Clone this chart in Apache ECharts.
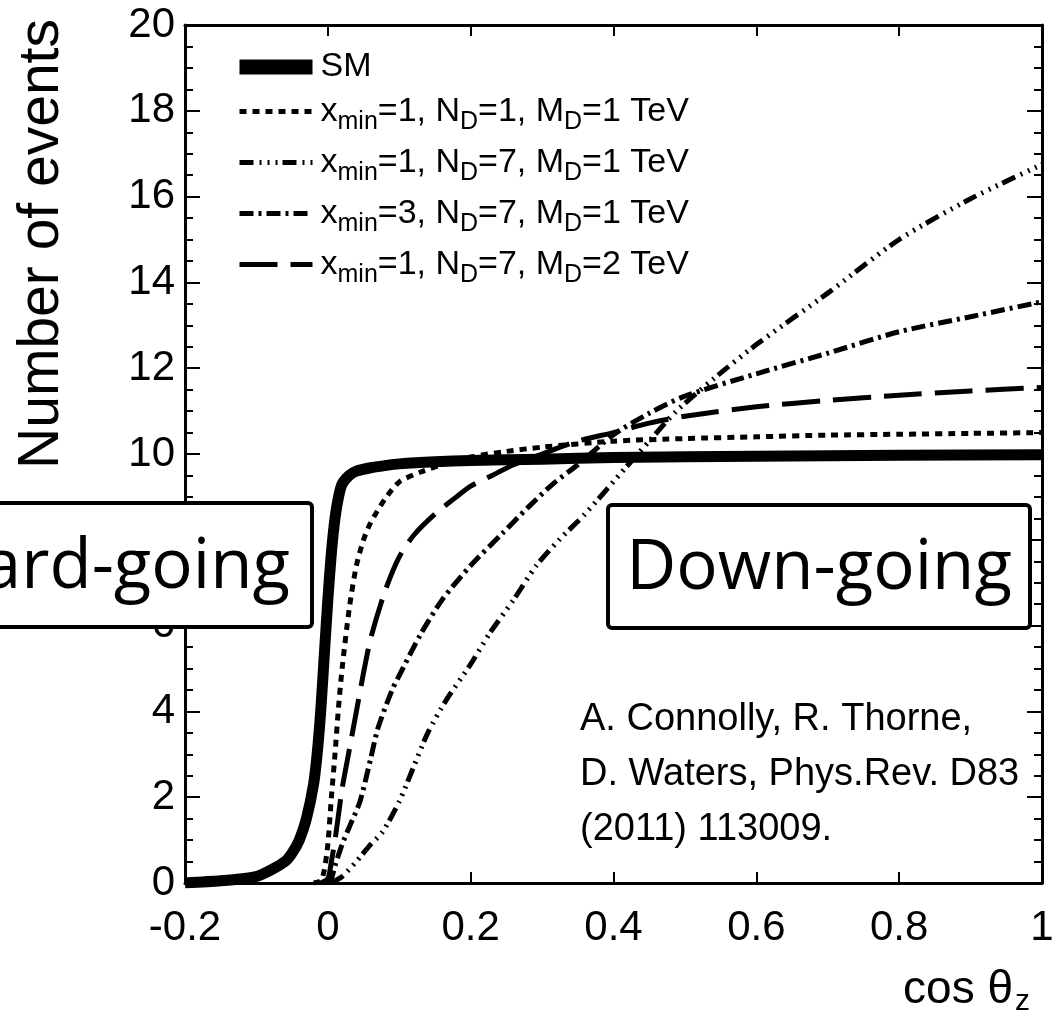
<!DOCTYPE html>
<html>
<head>
<meta charset="utf-8">
<script src="https://cdn.jsdelivr.net/npm/echarts@6/dist/echarts.min.js"></script>
<style>
html,body{margin:0;padding:0;background:#fff;}
#c{width:1059px;height:1029px;}
</style>
</head>
<body>
<div id="c"></div>
<script>
// ---- data ----
const xTicks = [-0.2, 0, 0.2, 0.4, 0.6, 0.8, 1];
const yTicks = [0, 2, 4, 6, 8, 10, 12, 14, 16, 18, 20];

const seriesNames = [
  'SM',
  'x_min=1, N_D=1, M_D=1 TeV',
  'x_min=1, N_D=7, M_D=1 TeV',
  'x_min=3, N_D=7, M_D=1 TeV',
  'x_min=1, N_D=7, M_D=2 TeV'
];

const smX = [-0.2,-0.15,-0.12,-0.1,-0.08,-0.06,-0.05,-0.04,-0.03,-0.02,-0.015,-0.01,-0.005,0,0.005,0.01,0.015,0.02,0.03,0.04,0.06,0.08,0.1,0.15,0.2,0.3,0.4,0.6,0.8,1.0];
const smY = [0.0,0.05,0.1,0.15,0.3,0.5,0.7,1.0,1.5,2.3,3.0,4.0,5.3,6.6,7.7,8.5,9.0,9.3,9.5,9.6,9.68,9.73,9.77,9.82,9.85,9.88,9.92,9.95,9.97,9.98];

const nd1X = [-0.02,-0.01,-0.005,0,0.005,0.01,0.015,0.02,0.03,0.04,0.05,0.06,0.08,0.1,0.13,0.16,0.2,0.25,0.3,0.4,0.5,0.6,0.7,0.8,0.9,1.0];
const nd1Y = [0,0.05,0.3,0.9,2.0,3.0,4.1,5.0,6.4,7.4,8.0,8.4,8.95,9.35,9.58,9.75,9.93,10.06,10.16,10.3,10.36,10.4,10.44,10.46,10.48,10.5];

const nd7m1X = [0.005,0.01,0.02,0.04,0.06,0.077,0.1,0.12,0.14,0.166,0.2,0.227,0.26,0.292,0.324,0.36,0.418,0.45,0.488,0.54,0.6,0.7,0.8,0.9,1.0];
const nd7m1Y = [0,0.05,0.15,0.5,0.9,1.2,1.9,2.7,3.5,4.27,5.1,5.83,6.6,7.4,8.0,8.6,9.7,10.3,11.0,11.75,12.55,13.75,15.0,15.95,16.75];

const xm3X = [0,0.005,0.01,0.02,0.03,0.045,0.06,0.07,0.09,0.105,0.13,0.16,0.2,0.245,0.28,0.315,0.35,0.4,0.45,0.5,0.6,0.7,0.8,0.9,1.0];
const xm3Y = [0,0.1,0.4,0.9,1.3,1.9,2.9,3.6,4.5,5.0,5.8,6.6,7.4,8.16,8.75,9.3,9.75,10.45,10.95,11.35,11.87,12.35,12.85,13.2,13.55];

const md2X = [-0.01,0,0.005,0.01,0.015,0.02,0.03,0.04,0.05,0.06,0.08,0.1,0.12,0.15,0.18,0.2,0.23,0.26,0.3,0.35,0.4,0.45,0.5,0.6,0.7,0.8,0.9,1.0];
const md2Y = [0,0.1,0.5,1.0,1.6,2.2,3.1,4.0,4.9,5.7,6.8,7.6,8.1,8.6,9.0,9.25,9.5,9.75,10.0,10.3,10.5,10.72,10.88,11.1,11.25,11.37,11.47,11.55];

const citation = ['A. Connolly, R. Thorne,', 'D. Waters, Phys.Rev. D83', '(2011) 113009.'];

// ---- build ----
function pairs(xs, ys){ return xs.map((x,i)=>[x, ys[i]]); }
function richName(n){
  if (n === 'SM') return '{g| }{t|SM}';
  const m = n.match(/x_min=(\d), N_D=(\d), M_D=(\d) TeV/);
  return '{g| }{t|x}{s|min}{t|=' + m[1] + ', N}{s|D}{t|=' + m[2] + ', M}{s|D}{t|=' + m[3] + ' TeV}';
}

const FONT = '"Liberation Sans", Arial, Helvetica, sans-serif';
const lineSeries = [
  {name: seriesNames[0], data: pairs(smX, smY), width: 11, type: 'solid'},
  {name: seriesNames[1], data: pairs(nd1X, nd1Y), width: 5, type: [7, 6]},
  {name: seriesNames[2], data: pairs(nd7m1X, nd7m1Y), width: 5, type: [14, 6, 2, 6, 2, 6, 2, 5]},
  {name: seriesNames[3], data: pairs(xm3X, xm3Y), width: 5, type: [14, 5, 3, 5]},
  {name: seriesNames[4], data: pairs(md2X, md2Y), width: 5, type: [38, 13]}
];

const chart = echarts.init(document.getElementById('c'), null, {renderer: 'canvas'});

const axisCommonY = {
  type: 'value', min: yTicks[0], max: yTicks[yTicks.length-1], interval: yTicks[1]-yTicks[0],
  splitLine: {show: false},
  axisLine: {show: true, onZero: false, lineStyle: {color: '#000', width: 3}},
  axisTick: {show: true, inside: true, length: 15, lineStyle: {color: '#000', width: 2}},
  minorTick: {show: true, splitNumber: 4, length: 8, lineStyle: {color: '#000', width: 2}},
  minorSplitLine: {show: false}
};
const axisCommonX = {
  type: 'value', min: xTicks[0], max: xTicks[xTicks.length-1], interval: 0.2,
  splitLine: {show: false},
  axisLine: {show: true, onZero: false, lineStyle: {color: '#000', width: 3}},
  axisTick: {show: true, inside: true, length: 11, lineStyle: {color: '#000', width: 2}}
};

const option = {
  backgroundColor: '#fff',
  animation: false,
  grid: {left: 185, right: 17, top: 25, bottom: 146, containLabel: false},
  xAxis: [
    Object.assign({}, axisCommonX, {
      position: 'bottom',
      axisLabel: {show: true, fontSize: 42, color: '#000', fontFamily: FONT, margin: 24,
        formatter: v => { const i = xTicks.findIndex(t => Math.abs(t - v) < 1e-9); return i >= 0 ? String(xTicks[i]) : ''; }}
    }),
    Object.assign({}, axisCommonX, {position: 'top', axisLabel: {show: false}})
  ],
  yAxis: [
    Object.assign({}, axisCommonY, {
      position: 'left',
      axisLabel: {show: true, fontSize: 42, color: '#000', fontFamily: FONT, margin: 10,
        formatter: v => { const i = yTicks.findIndex(t => Math.abs(t - v) < 1e-9); return i >= 0 ? String(yTicks[i]) : ''; }}
    }),
    Object.assign({}, axisCommonY, {position: 'right', axisLabel: {show: false}})
  ],
  legend: {
    show: true, orient: 'vertical', left: 227, top: 45,
    itemWidth: 73, itemHeight: 14, itemGap: 4,
    itemStyle: {color: 'rgba(0,0,0,0)', borderWidth: 0},
    data: seriesNames.map((n, i) => ({name: n, lineStyle: {width: i === 0 ? 15 : 5}})),
    formatter: richName,
    textStyle: {
      color: '#000', fontFamily: FONT,
      rich: {
        g: {fontSize: 4, width: 3, lineHeight: 47},
        t: {fontSize: 34, fontFamily: FONT, color: '#000', lineHeight: 47, verticalAlign: 'middle'},
        s: {fontSize: 25, fontFamily: FONT, color: '#000', lineHeight: 25, verticalAlign: 'bottom', padding: [22, 0, 0, 0]}
      }
    }
  },
  series: lineSeries.map(s => ({
    name: s.name, type: 'line', xAxisIndex: 0, yAxisIndex: 0,
    data: s.data, showSymbol: false, symbol: 'none',
    smooth: 0.25,
    lineStyle: {color: '#000', width: s.width, type: s.type, cap: 'butt', join: 'round'},
    itemStyle: {color: '#000'},
    clip: true, z: 3
  })),
  graphic: [
    {type: 'text', x: 42, y: 244, rotation: Math.PI/2, z: 10,
     style: {text: 'Number of events', font: '57px ' + FONT, fill: '#000', align: 'center', verticalAlign: 'middle'}},
    {type: 'text', x: 1030, y: 990, z: 10,
     style: {text: '{a|cos θ}{b|z}', fill: '#000', align: 'right', verticalAlign: 'middle',
       rich: {a: {fontSize: 46, fontFamily: FONT, lineHeight: 54, verticalAlign: 'middle'},
              b: {fontSize: 30, fontFamily: FONT, lineHeight: 30, verticalAlign: 'bottom', padding: [20, 0, 0, 2]}}}},
    {type: 'rect', z: 20, shape: {x: -20, y: 503, width: 332, height: 124, r: 4},
     style: {fill: '#fff', stroke: '#000', lineWidth: 4}},
    {type: 'text', z: 21, x: 290, y: 568,
     style: {text: 'ard-going', font: '69px "Open Sans", "Noto Sans", sans-serif', fill: '#000', align: 'right', verticalAlign: 'middle'}},
    {type: 'rect', z: 20, shape: {x: 608, y: 505, width: 422, height: 123, r: 4},
     style: {fill: '#fff', stroke: '#000', lineWidth: 4}},
    {type: 'text', z: 21, x: 819, y: 569,
     style: {text: 'Down-going', font: '69px "Open Sans", "Noto Sans", sans-serif', fill: '#000', align: 'center', verticalAlign: 'middle'}},
    {type: 'text', z: 10, x: 580, y: 720,
     style: {text: citation[0], font: '38px ' + FONT, fill: '#000', align: 'left', verticalAlign: 'middle'}},
    {type: 'text', z: 10, x: 580, y: 775,
     style: {text: citation[1], font: '38px ' + FONT, fill: '#000', align: 'left', verticalAlign: 'middle'}},
    {type: 'text', z: 10, x: 580, y: 830,
     style: {text: citation[2], font: '38px ' + FONT, fill: '#000', align: 'left', verticalAlign: 'middle'}}
  ]
};
chart.setOption(option);
</script>
</body>
</html>
